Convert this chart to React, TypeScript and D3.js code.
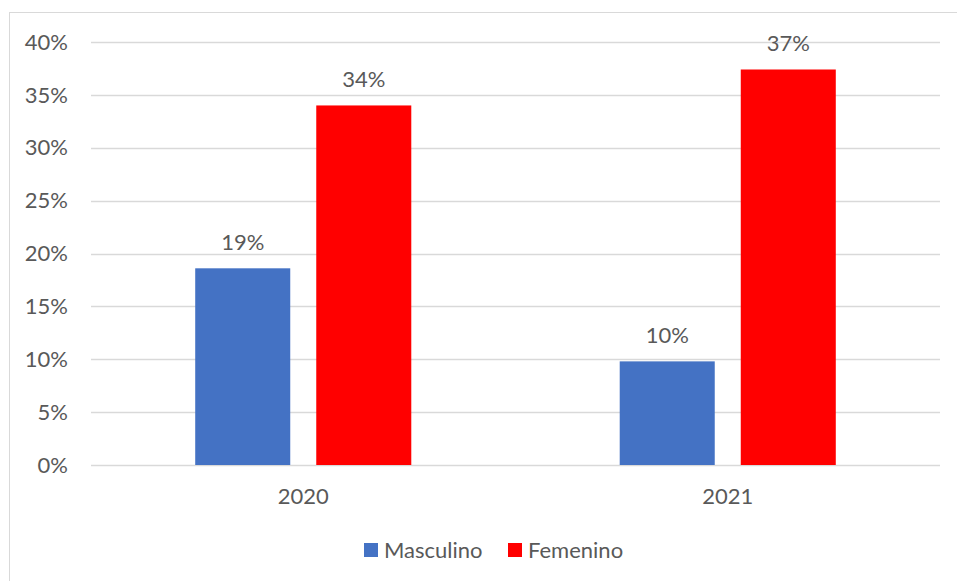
import React from "react";
import * as d3 from "d3";

const years = ["2020", "2021"];
const seriesNames = ["Masculino", "Femenino"];
const masculino = [0.186, 0.098];
const femenino = [0.340, 0.374];
const yTicks = [0, 0.05, 0.1, 0.15, 0.2, 0.25, 0.3, 0.35, 0.4];
const colors = ["#4472C4", "#FF0000"];

const W = 957;
const H = 581;
const FONT = "Lato, 'Open Sans', sans-serif";
const TXT = "#595959";
const FS = 22;

export default function App() {
  const left = 91, right = 940, top = 42, bottom = 465;
  const y = d3.scaleLinear().domain([0, 0.4]).range([bottom, top]);
  const x0 = d3.scaleBand<string>().domain(years).range([left, right]).paddingInner(0.491).paddingOuter(0.2455);
  const x1 = d3.scaleBand<string>().domain(seriesNames).range([0, x0.bandwidth()]).paddingInner(0.2149).paddingOuter(0);
  const values = [masculino, femenino];
  const fmt = d3.format(".0%");

  return (
    <svg width={W} height={H} style={{ position: "absolute", left: 0, top: 0 }} fontFamily={FONT}>
      <rect x={0} y={0} width={W} height={H} fill="#fff" />
      <rect x={9.5} y={12.5} width={W + 10} height={H + 10} fill="none" stroke="#D9D9D9" strokeWidth={1} />
      {yTicks.map((t) => (
        <g key={t}>
          <line x1={left} x2={right} y1={Math.round(y(t)) + 0.5} y2={Math.round(y(t)) + 0.5} stroke="#D9D9D9" strokeWidth={1.5} />
          <text x={68} y={y(t)} dy="0.35em" textAnchor="end" fontSize={FS} fill={TXT}>{fmt(t)}</text>
        </g>
      ))}
      {years.map((yr, i) => (
        <g key={yr}>
          {seriesNames.map((s, j) => {
            const v = values[j][i];
            const bx = (x0(yr) as number) + (x1(s) as number);
            return (
              <g key={s}>
                <rect x={bx} y={y(v)} width={x1.bandwidth()} height={bottom - y(v)} fill={colors[j]} />
                <text x={bx + x1.bandwidth() / 2} y={y(v) - 18} textAnchor="middle" fontSize={FS} fill={TXT}>{fmt(v)}</text>
              </g>
            );
          })}
          <text x={(x0(yr) as number) + x0.bandwidth() / 2} y={496} dy="0.35em" textAnchor="middle" fontSize={FS} fill={TXT}>{yr}</text>
        </g>
      ))}
      {seriesNames.map((s, j) => {
        const lx = j === 0 ? 364 : 508;
        return (
          <g key={s}>
            <rect x={lx} y={543} width={14} height={14} fill={colors[j]} />
            <text x={lx + 20} y={550} dy="0.35em" fontSize={FS} fill={TXT}>{s}</text>
          </g>
        );
      })}
    </svg>
  );
}
